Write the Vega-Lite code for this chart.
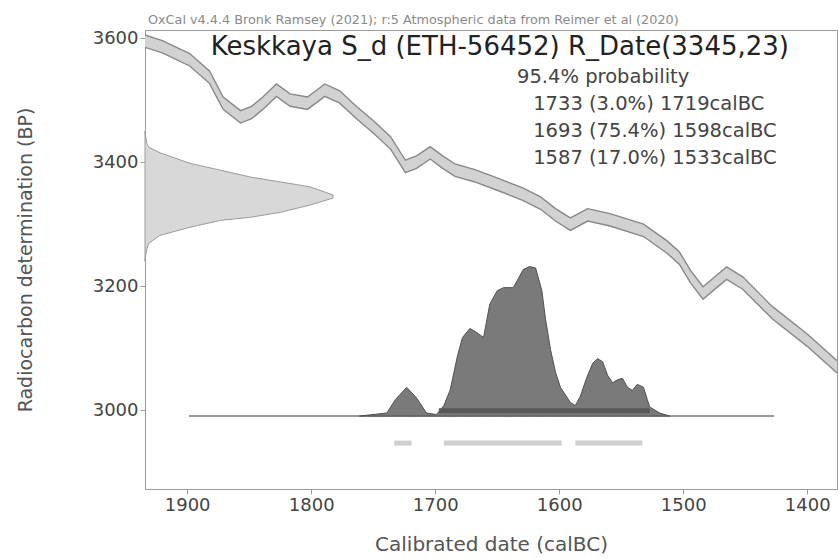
{
  "$schema": "https://vega.github.io/schema/vega-lite/v6.json",
  "width": 692,
  "height": 459,
  "autosize": "none",
  "padding": {"left": 145, "top": 30, "right": 2, "bottom": 70},
  "background": "white",
  "config": {"view": {"stroke": "#9a9a9a", "strokeWidth": 1}, "font": "DejaVu Sans"},
  "datasets": {
    "curve": [
      {"bc": 1934, "lo": 3585, "hi": 3605},
      {"bc": 1920, "lo": 3576, "hi": 3596},
      {"bc": 1898, "lo": 3555, "hi": 3575},
      {"bc": 1882, "lo": 3527, "hi": 3547},
      {"bc": 1871, "lo": 3485, "hi": 3505},
      {"bc": 1857, "lo": 3463, "hi": 3483},
      {"bc": 1848, "lo": 3470, "hi": 3490},
      {"bc": 1839, "lo": 3485, "hi": 3505},
      {"bc": 1828, "lo": 3506, "hi": 3526},
      {"bc": 1817, "lo": 3490, "hi": 3510},
      {"bc": 1803, "lo": 3485, "hi": 3505},
      {"bc": 1789, "lo": 3506, "hi": 3526},
      {"bc": 1777, "lo": 3495, "hi": 3515},
      {"bc": 1763, "lo": 3469, "hi": 3489},
      {"bc": 1750, "lo": 3447, "hi": 3467},
      {"bc": 1736, "lo": 3421, "hi": 3441},
      {"bc": 1724, "lo": 3383, "hi": 3403},
      {"bc": 1715, "lo": 3390, "hi": 3410},
      {"bc": 1704, "lo": 3405, "hi": 3425},
      {"bc": 1694, "lo": 3390, "hi": 3410},
      {"bc": 1684, "lo": 3377, "hi": 3397},
      {"bc": 1668, "lo": 3368, "hi": 3388},
      {"bc": 1648, "lo": 3353, "hi": 3373},
      {"bc": 1629, "lo": 3338, "hi": 3358},
      {"bc": 1615, "lo": 3324, "hi": 3344},
      {"bc": 1603, "lo": 3305, "hi": 3325},
      {"bc": 1591, "lo": 3290, "hi": 3310},
      {"bc": 1577, "lo": 3305, "hi": 3325},
      {"bc": 1559, "lo": 3297, "hi": 3317},
      {"bc": 1532, "lo": 3280, "hi": 3300},
      {"bc": 1513, "lo": 3253, "hi": 3273},
      {"bc": 1503, "lo": 3235, "hi": 3255},
      {"bc": 1494, "lo": 3205, "hi": 3225},
      {"bc": 1484, "lo": 3179, "hi": 3199},
      {"bc": 1474, "lo": 3196, "hi": 3216},
      {"bc": 1465, "lo": 3211, "hi": 3231},
      {"bc": 1452, "lo": 3195, "hi": 3215},
      {"bc": 1428, "lo": 3147, "hi": 3167},
      {"bc": 1400, "lo": 3103, "hi": 3123},
      {"bc": 1376, "lo": 3060, "hi": 3080}
    ],
    "rdate": [
      {"bp": 3450, "d": 0},
      {"bp": 3440, "d": 0.004},
      {"bp": 3430, "d": 0.01},
      {"bp": 3424, "d": 0.02},
      {"bp": 3415, "d": 0.08},
      {"bp": 3398, "d": 0.24},
      {"bp": 3387, "d": 0.4},
      {"bp": 3376, "d": 0.56},
      {"bp": 3368, "d": 0.72},
      {"bp": 3360, "d": 0.88},
      {"bp": 3347, "d": 1.0},
      {"bp": 3342, "d": 1.0},
      {"bp": 3331, "d": 0.88},
      {"bp": 3319, "d": 0.72},
      {"bp": 3311, "d": 0.56},
      {"bp": 3306, "d": 0.4},
      {"bp": 3295, "d": 0.24},
      {"bp": 3282, "d": 0.08},
      {"bp": 3269, "d": 0.02},
      {"bp": 3260, "d": 0.01},
      {"bp": 3250, "d": 0.004},
      {"bp": 3240, "d": 0}
    ],
    "calib": [
      {"bc": 1761, "p": 0},
      {"bc": 1739, "p": 0.02},
      {"bc": 1732, "p": 0.11},
      {"bc": 1723, "p": 0.19},
      {"bc": 1715, "p": 0.12},
      {"bc": 1707, "p": 0.02},
      {"bc": 1699, "p": 0.01},
      {"bc": 1693, "p": 0.07},
      {"bc": 1688, "p": 0.17},
      {"bc": 1682, "p": 0.4},
      {"bc": 1678, "p": 0.52},
      {"bc": 1672, "p": 0.58},
      {"bc": 1666, "p": 0.55},
      {"bc": 1661, "p": 0.52},
      {"bc": 1656, "p": 0.74},
      {"bc": 1650, "p": 0.83},
      {"bc": 1645, "p": 0.85},
      {"bc": 1637, "p": 0.85},
      {"bc": 1633, "p": 0.91},
      {"bc": 1629, "p": 0.97},
      {"bc": 1624, "p": 0.99},
      {"bc": 1619, "p": 0.98},
      {"bc": 1614, "p": 0.83},
      {"bc": 1611, "p": 0.64},
      {"bc": 1607, "p": 0.44},
      {"bc": 1603, "p": 0.29},
      {"bc": 1599, "p": 0.19},
      {"bc": 1591, "p": 0.09},
      {"bc": 1587, "p": 0.07},
      {"bc": 1583, "p": 0.13},
      {"bc": 1578, "p": 0.25},
      {"bc": 1573, "p": 0.35},
      {"bc": 1569, "p": 0.38},
      {"bc": 1565, "p": 0.36},
      {"bc": 1561, "p": 0.27},
      {"bc": 1557, "p": 0.22},
      {"bc": 1553, "p": 0.24},
      {"bc": 1549, "p": 0.25},
      {"bc": 1545, "p": 0.19},
      {"bc": 1541, "p": 0.17},
      {"bc": 1537, "p": 0.21},
      {"bc": 1532, "p": 0.19},
      {"bc": 1529, "p": 0.11},
      {"bc": 1527, "p": 0.06},
      {"bc": 1519, "p": 0.02},
      {"bc": 1511, "p": 0}
    ],
    "ranges": [
      {"from": 1733, "to": 1719},
      {"from": 1693, "to": 1598},
      {"from": 1587, "to": 1533}
    ]
  },
  "resolve": {"scale": {"x": "independent", "y": "independent"}},
  "layer": [
    {
      "layer": [
        {
          "data": {"name": "curve"},
          "mark": {"type": "area", "fill": "#d2d2d2", "clip": true},
          "encoding": {
            "x": {"field": "bc", "type": "quantitative",
              "scale": {"domain": [1934, 1376], "nice": false, "zero": false},
              "axis": {"values": [1900, 1800, 1700, 1600, 1500, 1400], "format": "d", "grid": false,
                "title": "Calibrated date (calBC)", "titleFontSize": 20, "titleFontWeight": "normal", "titleColor": "#555",
                "titlePadding": 20, "labelFontSize": 18, "labelColor": "#444", "tickSize": 5, "labelPadding": 2,
                "domainColor": "#9a9a9a", "tickColor": "#9a9a9a"}},
            "y": {"field": "lo", "type": "quantitative",
              "scale": {"domain": [2873, 3613], "nice": false, "zero": false},
              "axis": {"values": [3000, 3200, 3400, 3600], "format": "d", "grid": false,
                "title": "Radiocarbon determination (BP)", "titleFontSize": 19, "titleFontWeight": "normal", "titleColor": "#555",
                "titlePadding": 57, "labelFontSize": 18, "labelColor": "#444", "tickSize": 5, "labelPadding": 2,
                "domainColor": "#9a9a9a", "tickColor": "#9a9a9a"}},
            "y2": {"field": "hi"}
          }
        },
        {
          "data": {"name": "curve"},
          "mark": {"type": "line", "stroke": "#888888", "strokeWidth": 1.4, "clip": true},
          "encoding": {"x": {"field": "bc", "type": "quantitative"}, "y": {"field": "lo", "type": "quantitative"}}
        },
        {
          "data": {"name": "curve"},
          "mark": {"type": "line", "stroke": "#888888", "strokeWidth": 1.4, "clip": true},
          "encoding": {"x": {"field": "bc", "type": "quantitative"}, "y": {"field": "hi", "type": "quantitative"}}
        },
        {
          "data": {"name": "ranges"},
          "mark": {"type": "rule", "stroke": "#cfcfcf", "strokeWidth": 5},
          "encoding": {"x": {"field": "from", "type": "quantitative"}, "x2": {"field": "to"}, "y": {"datum": 2947}}
        },
        {
          "data": {"values": [{"t": "OxCal v4.4.4 Bronk Ramsey (2021); r:5 Atmospheric data from Reimer et al (2020)"}]},
          "mark": {"type": "text", "align": "left", "baseline": "middle", "fontSize": 12.8, "fill": "#8a8a8a"},
          "encoding": {"text": {"field": "t"}, "x": {"datum": 1931.6}, "y": {"datum": 3629}}
        },
        {
          "data": {"values": [{"t": "Keskkaya S_d (ETH-56452) R_Date(3345,23)"}]},
          "mark": {"type": "text", "align": "left", "baseline": "middle", "fontSize": 26, "fill": "#222"},
          "encoding": {"text": {"field": "t"}, "x": {"datum": 1881}, "y": {"datum": 3586}}
        },
        {
          "data": {"values": [{"t": "95.4% probability"}]},
          "mark": {"type": "text", "align": "left", "baseline": "middle", "fontSize": 19.5, "fill": "#444"},
          "encoding": {"text": {"field": "t"}, "x": {"datum": 1634}, "y": {"datum": 3537}}
        },
        {
          "data": {"values": [{"t": "1733 (3.0%) 1719calBC"}]},
          "mark": {"type": "text", "align": "left", "baseline": "middle", "fontSize": 19.5, "fill": "#444"},
          "encoding": {"text": {"field": "t"}, "x": {"datum": 1621}, "y": {"datum": 3494}}
        },
        {
          "data": {"values": [{"t": "1693 (75.4%) 1598calBC"}]},
          "mark": {"type": "text", "align": "left", "baseline": "middle", "fontSize": 19.5, "fill": "#444"},
          "encoding": {"text": {"field": "t"}, "x": {"datum": 1621}, "y": {"datum": 3450}}
        },
        {
          "data": {"values": [{"t": "1587 (17.0%) 1533calBC"}]},
          "mark": {"type": "text", "align": "left", "baseline": "middle", "fontSize": 19.5, "fill": "#444"},
          "encoding": {"text": {"field": "t"}, "x": {"datum": 1621}, "y": {"datum": 3407}}
        }
      ]
    },
    {
      "data": {"name": "rdate"},
      "mark": {"type": "area", "orient": "horizontal", "fill": "#d8d8d8", "stroke": "#9a9a9a", "strokeWidth": 1},
      "encoding": {
        "y": {"field": "bp", "type": "quantitative", "scale": {"domain": [2873, 3613], "nice": false, "zero": false}, "axis": null},
        "x": {"field": "d", "type": "quantitative", "scale": {"domain": [0, 3.68], "nice": false}, "axis": null}
      }
    },
    {
      "layer": [
        {
          "data": {"name": "calib"},
          "mark": {"type": "rule", "stroke": "#9a9a9a", "strokeWidth": 2},
          "encoding": {
            "x": {"datum": 1898, "type": "quantitative", "scale": {"domain": [1934, 1376], "nice": false, "zero": false}, "axis": null},
            "x2": {"datum": 1427},
            "y": {"datum": 0, "type": "quantitative", "scale": {"domain": [-0.483, 2.556], "nice": false, "zero": false}, "axis": null}
          }
        },
        {
          "data": {"name": "calib"},
          "mark": {"type": "area", "fill": "#7a7a7a", "stroke": "#505050", "strokeWidth": 1},
          "encoding": {
            "x": {"field": "bc", "type": "quantitative"},
            "y": {"field": "p", "type": "quantitative"},
            "y2": {"datum": 0}
          }
        },
        {
          "data": {"values": [{"a": 1}]},
          "mark": {"type": "rule", "stroke": "#575757", "strokeWidth": 5},
          "encoding": {"x": {"datum": 1697}, "x2": {"datum": 1527}, "y": {"datum": 0.035}}
        }
      ]
    }
  ]
}
